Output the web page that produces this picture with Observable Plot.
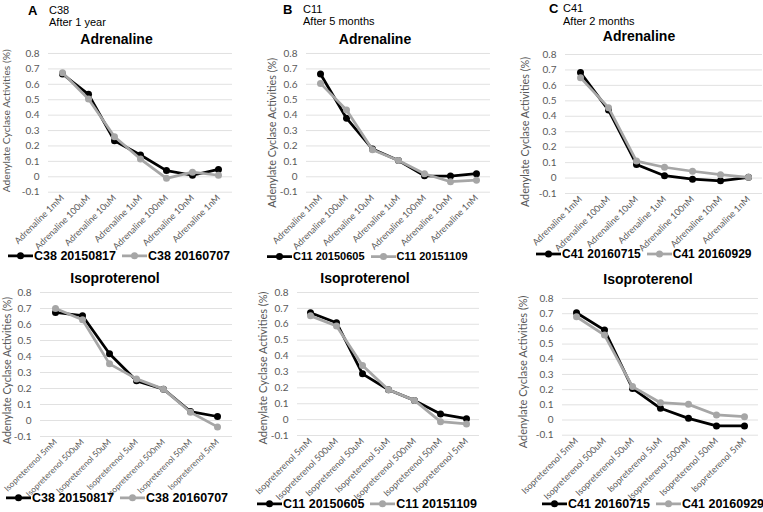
<!DOCTYPE html>
<html><head><meta charset="utf-8">
<script src="https://cdn.jsdelivr.net/npm/d3@7"></script>
<script src="https://cdn.jsdelivr.net/npm/@observablehq/plot@0.6"></script>
<style>
body{margin:0;background:#fff;}
#root{position:relative;width:763px;height:512px;overflow:hidden;font-family:Lato,sans-serif;}
.abs{position:absolute;white-space:nowrap;line-height:1;}
.plot{position:absolute;}
</style></head><body><div id="root"></div>
<script>
// ---------- data ----------
const adrenalineDoses = ["Adrenaline 1mM","Adrenaline 100uM","Adrenaline 10uM","Adrenaline 1uM","Adrenaline 100nM","Adrenaline 10nM","Adrenaline 1nM"];
const isoDoses = ["Isopreterenol 5mM","Isopreterenol 500uM","Isopreterenol 50uM","Isopreterenol 5uM","Isopreterenol 500nM","Isopreterenol 50nM","Isopreterenol 5nM"];
const yTicks = [-0.1,0,0.1,0.2,0.3,0.4,0.5,0.6,0.7,0.8];
const yTitle = "Adenylate Cyclase Activities (%)";
const drugTitles = ["Adrenaline","Isoproterenol"];

const panelLetters = ["A","B","C"];
const cellLines = ["C38","C11","C41"];
const intervals = ["After 1 year","After 5 months","After 2 months"];

const seriesC38 = ["C38 20150817","C38 20160707"];
const seriesC11 = ["C11 20150605","C11 20151109"];
const seriesC41 = ["C41 20160715","C41 20160929"];

const c38_20150817_adr = [0.667,0.535,0.234,0.141,0.040,0.010,0.048];
const c38_20160707_adr = [0.675,0.505,0.260,0.115,-0.010,0.030,0.010];
const c38_20150817_iso = [0.675,0.655,0.417,0.248,0.196,0.056,0.025];
const c38_20160707_iso = [0.700,0.630,0.354,0.260,0.196,0.052,-0.040];

const c11_20150605_adr = [0.667,0.380,0.180,0.105,0.006,0.005,0.020];
const c11_20151109_adr = [0.606,0.433,0.175,0.105,0.020,-0.032,-0.022];
const c11_20150605_iso = [0.672,0.610,0.288,0.188,0.121,0.035,0.006];
const c11_20151109_iso = [0.653,0.589,0.340,0.188,0.121,-0.013,-0.027];

const c41_20160715_adr = [0.683,0.440,0.088,0.015,-0.007,-0.018,0.005];
const c41_20160929_adr = [0.650,0.456,0.110,0.070,0.044,0.022,0.005];
const c41_20160715_iso = [0.706,0.592,0.208,0.077,0.011,-0.039,-0.039];
const c41_20160929_iso = [0.680,0.559,0.220,0.114,0.103,0.033,0.022];

const seriesColors = ["#000000","#a6a6a6"];

// ---------- layout ----------
const root = document.getElementById("root");
function place(text, x, y, style, anchor){
  const d = document.createElement("div");
  d.className = "abs";
  d.textContent = text;
  d.style.left = x + "px"; d.style.top = y + "px";
  d.style.transform = anchor === "center" ? "translate(-50%,-50%)" : "translate(0,-50%)";
  Object.assign(d.style, style);
  root.appendChild(d);
}

const panels = [
  {names: seriesC38, doses: adrenalineDoses, vals:[c38_20150817_adr,c38_20160707_adr], title:drugTitles[0], xfs:9,
   x0:48, x1:232, yTop:53.3, yBot:192, tx:116.5, ty:39, yt:{dx:-42, dy:-2, fs:10.3}, leg:{x:8, y:256, fs:12.5}},
  {names: seriesC38, doses: isoDoses, vals:[c38_20150817_iso,c38_20160707_iso], title:drugTitles[1], xfs:8.4,
   x0:40, x1:232, yTop:292, yBot:436, tx:115, ty:278, yt:{dx:-33, dy:6, fs:10.6}, leg:{x:6, y:498, fs:12.5}},
  {names: seriesC11, doses: adrenalineDoses, vals:[c11_20150605_adr,c11_20151109_adr], title:drugTitles[0], xfs:9,
   x0:306, x1:490, yTop:53.3, yBot:192, tx:375, ty:39, yt:{dx:-34, dy:10, fs:10.8}, leg:{x:267, y:256, fs:11}},
  {names: seriesC11, doses: isoDoses, vals:[c11_20150605_iso,c11_20151109_iso], title:drugTitles[1], xfs:9,
   x0:297, x1:479, yTop:292, yBot:435, tx:365, ty:278, yt:{dx:-34, dy:4, fs:11}, leg:{x:257, y:504, fs:12.5}},
  {names: seriesC41, doses: adrenalineDoses, vals:[c41_20160715_adr,c41_20160929_adr], title:drugTitles[0], xfs:9,
   x0:565, x1:762, yTop:54, yBot:193, tx:639, ty:36, yt:{dx:-40, dy:8, fs:10.8}, leg:{x:536, y:254, fs:12}},
  {names: seriesC41, doses: isoDoses, vals:[c41_20160715_iso,c41_20160929_iso], title:drugTitles[1], xfs:9,
   x0:562, x1:758, yTop:298.3, yBot:435, tx:648, ty:279, yt:{dx:-39, dy:5, fs:11}, leg:{x:542, y:504, fs:12.5}}
];

const headers = [
  {lx:28, cx:49, y1:10, y2:21.5},
  {lx:283, cx:303, y1:8.5, y2:21},
  {lx:549, cx:563, y1:7.5, y2:21}
];
headers.forEach((h,i)=>{
  place(panelLetters[i], h.lx, h.y1, {fontFamily:"'Liberation Sans',Arial,sans-serif", fontWeight:"900", fontSize:"13px", color:"#000"});
  place(cellLines[i], h.cx, h.y1, {fontFamily:"'Liberation Sans',Arial,sans-serif", fontSize:"11px", color:"#000"});
  place(intervals[i], h.cx, h.y2, {fontFamily:"'Liberation Sans',Arial,sans-serif", fontSize:"11px", color:"#000"});
});

const fmt = d => (Math.abs(d) < 1e-9 ? "0" : String(+d.toFixed(1)));

panels.forEach(p=>{
  const mL = 50, mR = 2, mT = 6, mB = 80;
  const data = [];
  p.names.forEach((s,si)=> p.doses.forEach((dose,di)=> data.push({series:s, dose, value:p.vals[si][di]})));
  const marks = [
    Plot.gridY(yTicks, {stroke:"#d9d9d9", strokeOpacity:1, strokeWidth:0.8}),
    Plot.axisY(yTicks, {tickSize:0, tickPadding:9, tickFormat:fmt, fontSize:10, fill:"#595959", label:null}),
    Plot.axisX({tickSize:0, tickPadding:4, tickRotate:-45, textAnchor:"end", fontSize:p.xfs, fill:"#595959", label:null}),
    Plot.text([yTitle], {text:d=>d, frameAnchor:"left", textAnchor:"middle", dx:p.yt.dx, dy:p.yt.dy, rotate:-90, fontSize:p.yt.fs, fill:"#595959"})
  ];
  p.names.forEach((s,si)=>{
    const sub = data.filter(d=>d.series===s);
    marks.push(Plot.line(sub, {x:"dose", y:"value", stroke:seriesColors[si], strokeWidth:2.75}));
    marks.push(Plot.dot(sub, {x:"dose", y:"value", fill:seriesColors[si], r:3.5}));
  });
  const chart = Plot.plot({
    width: p.x1 - p.x0 + mL + mR,
    height: p.yBot - p.yTop + mT + mB,
    marginLeft: mL, marginRight: mR, marginTop: mT, marginBottom: mB,
    x: {type:"point", domain:p.doses, padding:0.5},
    y: {domain:[-0.1,0.8]},
    style: {fontFamily:"Lato, sans-serif", background:"transparent", overflow:"visible"},
    marks
  });
  chart.classList.add("plot");
  chart.style.left = (p.x0 - mL) + "px";
  chart.style.top = (p.yTop - mT) + "px";
  root.appendChild(chart);

  place(p.title, p.tx, p.ty, {fontFamily:"'Liberation Sans',Arial,sans-serif", fontWeight:"bold", fontSize:"14px", color:"#000"}, "center");

  // legend
  const lg = document.createElement("div");
  lg.className = "abs";
  lg.style.left = p.leg.x + "px"; lg.style.top = p.leg.y + "px";
  lg.style.transform = "translate(0,-50%)";
  lg.style.display = "flex"; lg.style.alignItems = "center"; lg.style.gap = "6px";
  lg.style.fontFamily = "'Liberation Sans',Arial,sans-serif"; lg.style.fontWeight = "bold";
  lg.style.fontSize = p.leg.fs + "px"; lg.style.color = "#000";
  p.names.forEach((s,si)=>{
    const item = document.createElement("div");
    item.style.display = "flex"; item.style.alignItems = "center";
    item.innerHTML = `<svg width="25" height="10" style="display:block"><line x1="0" x2="25" y1="5" y2="5" stroke="${seriesColors[si]}" stroke-width="2.75"/><circle cx="12.5" cy="5" r="3.5" fill="${seriesColors[si]}"/></svg>`;
    const t = document.createElement("span");
    t.textContent = s; t.style.marginLeft = "1px";
    item.appendChild(t);
    lg.appendChild(item);
  });
  root.appendChild(lg);
});
</script></body></html>
